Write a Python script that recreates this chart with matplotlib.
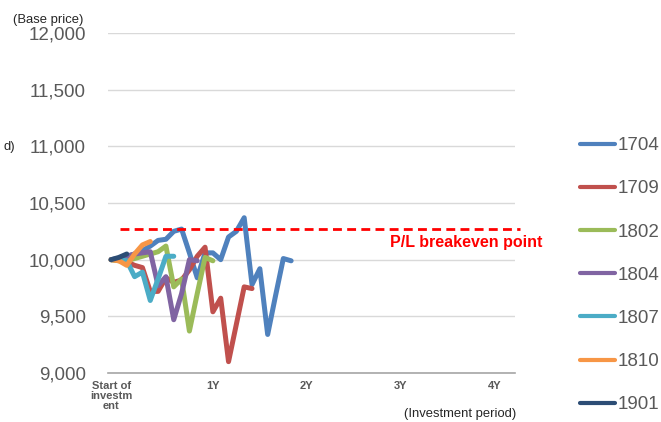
import matplotlib
matplotlib.use("Agg")
import matplotlib.pyplot as plt
from matplotlib.ticker import FuncFormatter

# ---- data ----
series_names = ["1704", "1709", "1802", "1804", "1807", "1810", "1901"]
s1704 = [10000, 10010, 10030, 10050, 10080, 10120, 10170, 10180, 10250, 10270, 10060, 9840,
         10060, 10060, 10000, 10200, 10250, 10370, 9780, 9920, 9340, 9680, 10010, 9990]
s1709 = [10000, 10000, 9980, 9950, 9930, 9720, 9720, 9840, 9800, 9820, 9910, 10030,
         10110, 9540, 9660, 9100, 9430, 9760, 9745]
s1802 = [10000, 9990, 9990, 10010, 10030, 10050, 10070, 10120, 9760, 9830, 9370, 9700, 10020, 9990]
s1804 = [10000, 10010, 10030, 10050, 10060, 10070, 9770, 9850, 9470, 9700, 10000, 9990]
s1807 = [10000, 10000, 9990, 9850, 9890, 9640, 9830, 10030, 10030]
s1810 = [10000, 9990, 9950, 10050, 10130, 10160]
s1901 = [10000, 10020, 10050]
series_values = [s1704, s1709, s1802, s1804, s1807, s1810, s1901]
series_colors = ["#4F81BD", "#C0504D", "#9BBB59", "#8064A2", "#4BACC6", "#F79646", "#2C4D75"]

breakeven = 10270
x_tick_pos = [0, 13, 25, 37, 49]
x_tick_labels = ["Start of\ninvestm\nent", "1Y", "2Y", "3Y", "4Y"]
y_ticks = [9000, 9500, 10000, 10500, 11000, 11500, 12000]

# ---- figure ----
W, H = 661, 422
plt.rcParams['font.family'] = ['Liberation Sans', 'DejaVu Sans']
fig = plt.figure(figsize=(W / 100, H / 100), dpi=100)
ax = fig.add_axes([108 / W, 1 - 373 / H, (515 - 108) / W, (373 - 33) / H])

for name, vals, col in zip(series_names, series_values, series_colors):
    ax.plot(range(len(vals)), vals, color=col, lw=3.6, label=name,
            solid_capstyle='round', solid_joinstyle='round', zorder=3)

ax.plot([1.15, 52.2], [breakeven, breakeven], color="#FF0000", lw=2.0,
        dashes=(3.2, 1.9), clip_on=False, zorder=4)
ax.text(35.6, 10150, "P/L breakeven point", color="#FF0000", fontsize=11.5,
        fontweight='bold', ha='left', va='center', clip_on=False)

ax.set_xlim(-0.4, 51.6)
ax.set_ylim(9000, 12000)
ax.set_yticks(y_ticks)
ax.yaxis.set_major_formatter(FuncFormatter(lambda v, p: f"{int(v):,}"))
ax.set_xticks(x_tick_pos)
ax.set_xticklabels(x_tick_labels, fontsize=8, fontweight='bold', color="#595959",
                   linespacing=1.0)
ax.tick_params(axis='y', length=0, pad=16, labelsize=13.5, labelcolor="#595959")
ax.tick_params(axis='x', length=0, pad=6)
ax.grid(axis='y', color="#D9D9D9", lw=1.0, zorder=0)
for sp in ["top", "right", "left"]:
    ax.spines[sp].set_visible(False)
ax.spines["bottom"].set_color("#A6A6A6")
ax.spines["bottom"].set_linewidth(1.2)

fig.text(48 / W, 1 - 20 / H, "(Base price)", fontsize=9.4, ha='center', va='center',
         color="#262626")
fig.text(15 / W, 1 - 147 / H, "d)", fontsize=9.4, ha='right', va='center', color="#262626")
fig.text(460 / W, 1 - 408 / H, "(Investment period)", fontsize=9.4, ha='center', va='top',
         color="#262626")

fig.legend(loc='upper left', bbox_to_anchor=(580 / W, 1 - 137 / H), frameon=False,
           fontsize=13.5, handlelength=1.85, handletextpad=0.15, labelspacing=1.39,
           borderpad=0, borderaxespad=0, labelcolor="#595959")
for l in fig.legends[0].get_lines():
    l.set_linewidth(3.0)

fig.savefig("out.png", dpi=100)
